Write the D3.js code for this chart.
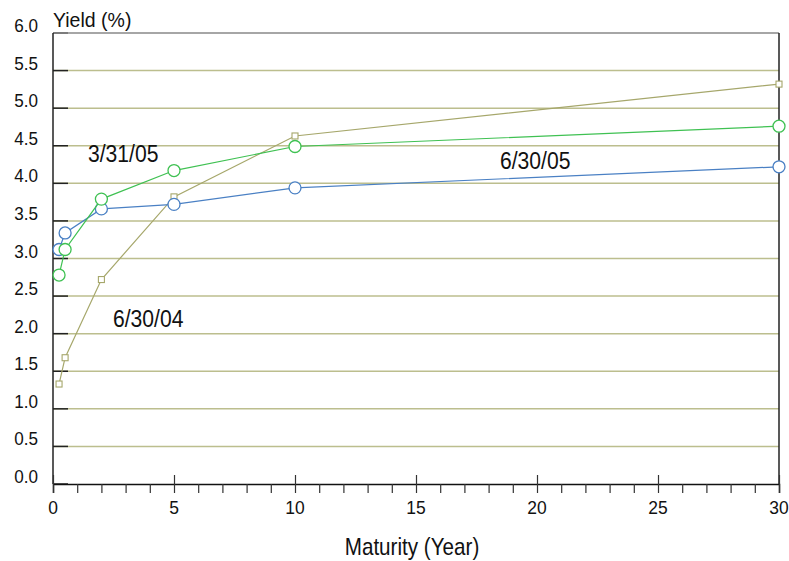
<!DOCTYPE html>
<html>
<head>
<meta charset="utf-8">
<script src="https://cdn.jsdelivr.net/npm/d3@7"></script>
<style>
  body { margin: 0; background: #fff; }
  text { font-family: "Liberation Sans", Arial, sans-serif; fill: #111; }
</style>
</head>
<body>
<div id="chart"></div>
<script>
const maturities = [0.25, 0.5, 2, 5, 10, 30];
const yield063005 = [3.12, 3.34, 3.66, 3.72, 3.94, 4.22];
const yield033105 = [2.78, 3.12, 3.79, 4.17, 4.49, 4.76];
const yield063004 = [1.33, 1.68, 2.72, 3.82, 4.63, 5.32];
const yTicks = [0, 0.5, 1, 1.5, 2, 2.5, 3, 3.5, 4, 4.5, 5, 5.5, 6];
const xTicks = [0, 5, 10, 15, 20, 25, 30];

const width = 789, height = 561;
const margin = { top: 33, right: 10, bottom: 77, left: 53 };
const chartWidth = width - margin.left - margin.right;
const chartHeight = height - margin.top - margin.bottom;

const svg = d3.select('#chart')
  .append('svg')
  .attr('width', width)
  .attr('height', height);

const g = svg.append('g')
  .attr('transform', `translate(${margin.left},${margin.top})`);

const xScale = d3.scaleLinear().domain([0, 30]).range([0, chartWidth]);
const yScale = d3.scaleLinear().domain([0, 6]).range([chartHeight, 0]);

// text squeezed a bit horizontally, like the original's font
function narrowText(parent, x, y, txt, size, sx, anchor) {
  return parent.append('text')
    .attr('transform', `translate(${x},${y}) scale(${sx},1)`)
    .attr('text-anchor', anchor || 'start')
    .style('font-size', size + 'px')
    .text(txt);
}

// grid lines
g.selectAll('.grid')
  .data(yTicks.filter(d => d > 0 && d < 6))
  .enter().append('line')
  .attr('x1', 0)
  .attr('x2', chartWidth)
  .attr('y1', d => yScale(d))
  .attr('y2', d => yScale(d))
  .attr('stroke', '#bcbe8e')
  .attr('stroke-width', 1.5);

// y tick marks (inside)
g.selectAll('.ytick')
  .data(yTicks)
  .enter().append('line')
  .attr('x1', 0)
  .attr('x2', 15)
  .attr('y1', d => yScale(d))
  .attr('y2', d => yScale(d))
  .attr('stroke', '#222')
  .attr('stroke-width', 1.5);

// y tick labels
yTicks.forEach(t => {
  narrowText(g, -15, yScale(t) - 1, d3.format('.1f')(t), 18, 0.95, 'end');
});

// frame
g.append('line')
  .attr('x1', 0).attr('x2', chartWidth)
  .attr('y1', 0).attr('y2', 0)
  .attr('stroke', '#888').attr('stroke-width', 1.5);
g.append('line')
  .attr('x1', chartWidth).attr('x2', chartWidth)
  .attr('y1', 0).attr('y2', chartHeight)
  .attr('stroke', '#222').attr('stroke-width', 1.5);
g.append('line')
  .attr('x1', 0).attr('x2', 0)
  .attr('y1', 0).attr('y2', chartHeight)
  .attr('stroke', '#222').attr('stroke-width', 1.5);

// x axis
const xAxis = d3.axisBottom(xScale)
  .tickValues(d3.range(0, 31, 1))
  .tickSize(9)
  .tickFormat('');

const xg = g.append('g')
  .attr('transform', `translate(0,${chartHeight})`)
  .call(xAxis);
xg.select('.domain').attr('stroke', '#111').attr('stroke-width', 1.5);
xg.selectAll('.tick line').attr('stroke', '#333').attr('stroke-width', 1.2)
  .attr('y1', d => xTicks.includes(d) ? -9 : 0);

xTicks.forEach(t => {
  narrowText(g, xScale(t), chartHeight + 30, String(t), 19, 0.92, 'middle');
});

// axis titles
svg.append('text')
  .attr('x', 53)
  .attr('y', 27)
  .style('font-size', '19.5px')
  .text('Yield (%)');

narrowText(svg, margin.left + xScale(15) - 4, 555, 'Maturity (Year)', 24, 0.86, 'middle');

const seriesList = [
  { name: '6/30/04', values: yield063004, color: '#a6a76b', marker: 'square' },
  { name: '6/30/05', values: yield063005, color: '#4a80c4', marker: 'circle' },
  { name: '3/31/05', values: yield033105, color: '#3fc152', marker: 'circle' }
];

const line = d3.line()
  .x(d => xScale(d[0]))
  .y(d => yScale(d[1]));

seriesList.forEach(s => {
  const pts = maturities.map((m, i) => [m, s.values[i]]);
  g.append('path')
    .datum(pts)
    .attr('fill', 'none')
    .attr('stroke', s.color)
    .attr('stroke-width', 1.2)
    .attr('d', line);
  if (s.marker === 'circle') {
    g.selectAll(null)
      .data(pts)
      .enter().append('circle')
      .attr('cx', d => xScale(d[0]))
      .attr('cy', d => yScale(d[1]))
      .attr('r', 6)
      .attr('fill', '#fff')
      .attr('stroke', s.color)
      .attr('stroke-width', 1.3);
  } else {
    g.selectAll(null)
      .data(pts)
      .enter().append('rect')
      .attr('x', d => xScale(d[0]) - 3)
      .attr('y', d => yScale(d[1]) - 3)
      .attr('width', 6)
      .attr('height', 6)
      .attr('fill', '#fff')
      .attr('stroke', s.color)
      .attr('stroke-width', 1.1);
  }
});

// series labels
const seriesLabels = [
  { text: '3/31/05', x: 88, y: 162 },
  { text: '6/30/05', x: 500, y: 169 },
  { text: '6/30/04', x: 113, y: 327 }
];
seriesLabels.forEach(d => {
  narrowText(svg, d.x, d.y, d.text, 24, 0.88);
});
</script>
</body>
</html>
